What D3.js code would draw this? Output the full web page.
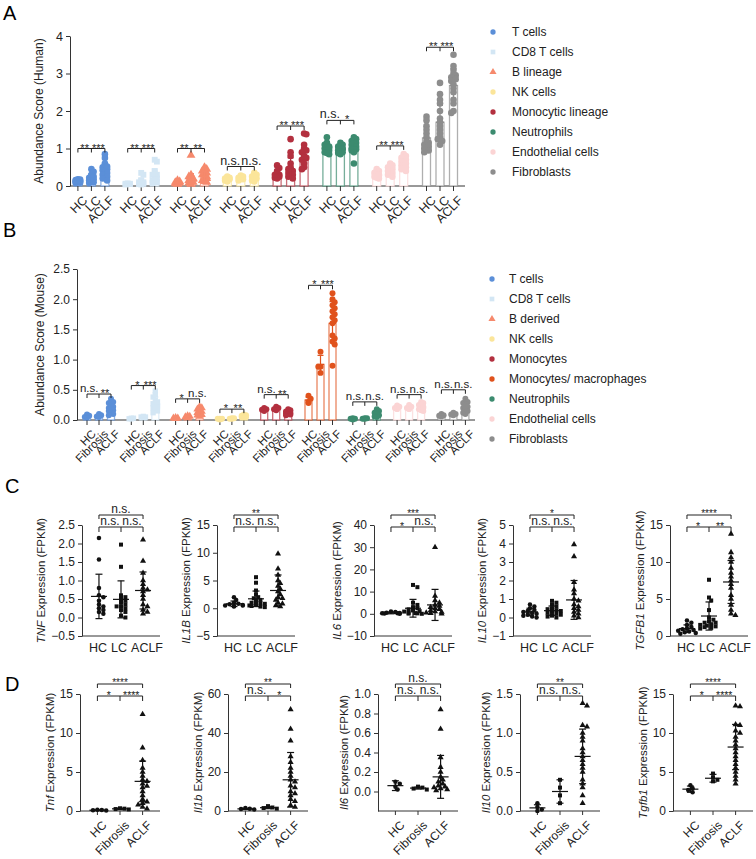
<!DOCTYPE html>
<html>
<head>
<meta charset="utf-8">
<script src="https://cdn.jsdelivr.net/npm/d3@7"></script>
<style>
  body { margin: 0; background: #fff; }
  svg { font-family: Arial, "Liberation Sans", sans-serif; }
</style>
</head>
<body>
<svg id="fig" width="756" height="859"></svg>
<script>
// ---------- data: panel A (human abundance) ----------
const humanCells = ['T cells', 'CD8 T cells', 'B lineage', 'NK cells', 'Monocytic lineage', 'Neutrophils', 'Endothelial cells', 'Fibroblasts'];
const humanGroups = ['HC', 'LC', 'ACLF'];
const humanMean = [
    [0.13, 0.21, 0.45], [0.06, 0.12, 0.26], [0.10, 0.18, 0.26], [0.19, 0.21, 0.22],
    [0.32, 0.45, 0.70], [1.00, 0.97, 1.03], [0.30, 0.42, 0.58], [1.28, 1.70, 2.68]
];
const humanSD = [
    [0.04, 0.11, 0.17], [0.01, 0.09, 0.19], [0.04, 0.15, 0.13], [0.04, 0.04, 0.07],
    [0.10, 0.30, 0.28], [0.12, 0.09, 0.16], [0.08, 0.11, 0.14], [0.30, 0.45, 0.45]
];
const humanPoints = [
    [[0.18, 0.15, 0.12, 0.10, 0.14, 0.08, 0.16, 0.11, 0.13, 0.09, 0.17, 0.12],
     [0.45, 0.38, 0.30, 0.25, 0.22, 0.20, 0.18, 0.15, 0.12, 0.10, 0.08, 0.28],
     [0.85, 0.75, 0.60, 0.55, 0.50, 0.48, 0.45, 0.42, 0.40, 0.35, 0.30, 0.25, 0.20, 0.15, 0.52]],
    [[0.05, 0.06, 0.07, 0.04, 0.06, 0.05],
     [0.35, 0.30, 0.15, 0.12, 0.10, 0.08, 0.06, 0.05, 0.04, 0.10],
     [0.70, 0.65, 0.40, 0.35, 0.30, 0.25, 0.20, 0.15, 0.12, 0.10, 0.08, 0.30]],
    [[0.15, 0.12, 0.10, 0.08, 0.06, 0.05, 0.10],
     [0.82, 0.30, 0.25, 0.20, 0.18, 0.15, 0.12, 0.10, 0.08, 0.05],
     [0.50, 0.45, 0.40, 0.35, 0.30, 0.25, 0.22, 0.20, 0.15, 0.12, 0.10]],
    [[0.25, 0.22, 0.20, 0.18, 0.15, 0.12, 0.20],
     [0.28, 0.25, 0.22, 0.20, 0.18, 0.15],
     [0.35, 0.30, 0.25, 0.22, 0.20, 0.15, 0.12]],
    [[0.55, 0.48, 0.40, 0.35, 0.30, 0.28, 0.25, 0.22, 0.20, 0.30],
     [1.25, 0.90, 0.80, 0.60, 0.50, 0.45, 0.40, 0.35, 0.30, 0.25, 0.20],
     [1.40, 1.38, 1.10, 1.00, 0.95, 0.90, 0.80, 0.75, 0.70, 0.60, 0.50, 0.45]],
    [[1.30, 1.15, 1.10, 1.05, 1.00, 0.98, 0.95, 0.90, 0.88, 0.85, 1.02],
     [1.15, 1.10, 1.05, 1.00, 0.98, 0.95, 0.92, 0.90, 0.88, 0.85],
     [1.30, 1.25, 1.20, 1.15, 1.10, 1.05, 1.00, 0.98, 0.95, 0.90, 0.60]],
    [[0.45, 0.40, 0.35, 0.30, 0.28, 0.25, 0.20, 0.22],
     [0.60, 0.55, 0.50, 0.45, 0.40, 0.35, 0.30, 0.25],
     [0.85, 0.80, 0.75, 0.70, 0.65, 0.60, 0.55, 0.50, 0.45, 0.40]],
    [[1.85, 1.75, 1.60, 1.50, 1.40, 1.30, 1.20, 1.15, 1.10, 1.05, 1.00, 0.95, 0.90],
     [2.75, 2.45, 2.30, 2.20, 2.00, 1.80, 1.70, 1.60, 1.50, 1.40, 1.30, 1.25, 1.20, 1.10],
     [3.50, 3.20, 3.10, 3.00, 2.95, 2.90, 2.85, 2.80, 2.70, 2.60, 2.50, 2.30, 2.20, 2.00, 1.95]]
];
const humanSig = [['**', '***'], ['**', '***'], ['**', '**'], ['n.s.', 'n.s.'], ['**', '***'], ['n.s.', '*'], ['**', '***'], ['**', '***']];
const humanSigLevel = [1.0, 1.0, 1.0, 0.52, 1.6, 1.75, 1.07, 3.7];

// ---------- data: panel B (mouse abundance) ----------
const mouseCells = ['T cells', 'CD8 T cells', 'B derived', 'NK cells', 'Monocytes', 'Monocytes/ macrophages', 'Neutrophils', 'Endothelial cells', 'Fibroblasts'];
const mouseGroups = ['HC', 'Fibrosis', 'ACLF'];
const mouseMean = [
    [0.06, 0.07, 0.20], [0.025, 0.05, 0.27], [0.03, 0.055, 0.13], [0.018, 0.025, 0.06],
    [0.17, 0.19, 0.12], [0.33, 0.92, 1.60], [0.02, 0.025, 0.10], [0.21, 0.21, 0.21], [0.08, 0.10, 0.22]
];
const mouseSD = [
    [0.02, 0.02, 0.08], [0.005, 0.01, 0.11], [0.01, 0.01, 0.05], [0.005, 0.005, 0.02],
    [0.02, 0.02, 0.03], [0.05, 0.15, 0.36], [0.01, 0.005, 0.05], [0.03, 0.03, 0.05], [0.015, 0.02, 0.1]
];
const mousePoints = [
    [[0.09, 0.07, 0.05, 0.04], [0.10, 0.08, 0.06, 0.05],
     [0.35, 0.30, 0.28, 0.25, 0.22, 0.20, 0.18, 0.16, 0.15, 0.12, 0.10, 0.08]],
    [[0.03, 0.02, 0.03, 0.02], [0.06, 0.05, 0.04, 0.05],
     [0.48, 0.42, 0.38, 0.33, 0.30, 0.27, 0.24, 0.22, 0.20, 0.18, 0.15, 0.12]],
    [[0.04, 0.03, 0.03, 0.02], [0.07, 0.05, 0.06, 0.04],
     [0.22, 0.20, 0.18, 0.15, 0.14, 0.12, 0.10, 0.09, 0.08, 0.06]],
    [[0.02, 0.02, 0.01, 0.02], [0.03, 0.02, 0.02, 0.03],
     [0.09, 0.08, 0.07, 0.06, 0.05, 0.05, 0.04]],
    [[0.20, 0.18, 0.17, 0.15], [0.22, 0.20, 0.18, 0.16],
     [0.18, 0.16, 0.14, 0.13, 0.12, 0.11, 0.10, 0.09, 0.08]],
    [[0.40, 0.35, 0.30, 0.28], [1.13, 0.88, 0.88, 0.78],
     [2.10, 2.00, 1.95, 1.90, 1.85, 1.80, 1.75, 1.70, 1.65, 1.60, 1.40, 1.35, 1.30, 1.25, 0.90]],
    [[0.03, 0.02, 0.02, 0.01], [0.03, 0.03, 0.02, 0.02],
     [0.18, 0.15, 0.12, 0.10, 0.08, 0.06, 0.05]],
    [[0.24, 0.22, 0.20, 0.18], [0.25, 0.22, 0.20, 0.18],
     [0.30, 0.28, 0.25, 0.22, 0.20, 0.18, 0.16, 0.15]],
    [[0.10, 0.08, 0.07, 0.06], [0.12, 0.10, 0.09, 0.08],
     [0.35, 0.30, 0.28, 0.25, 0.22, 0.20, 0.18, 0.15, 0.12, 0.10]]
];
const mouseSig = [['n.s.', '**'], ['*', '***'], ['*', 'n.s.'], ['*', '**'], ['n.s.', '**'], ['*', '***'], ['n.s.', 'n.s.'], ['n.s.', 'n.s.'], ['n.s.', 'n.s.']];
const mouseSigLevel = [0.43, 0.57, 0.35, 0.18, 0.42, 2.23, 0.30, 0.42, 0.50];

const cellColors = {
    'T cells': '#5b8fd8', 'CD8 T cells': '#d3e6f4', 'B lineage': '#f6896c', 'B derived': '#f6896c',
    'NK cells': '#fbe59a', 'Monocytic lineage': '#b3303f', 'Monocytes': '#b3303f',
    'Monocytes/ macrophages': '#e0521c', 'Neutrophils': '#3c8b6f', 'Endothelial cells': '#fbd4d4',
    'Fibroblasts': '#8d8d8d'
};
const cellShapes = {'CD8 T cells': 'square', 'B lineage': 'triangle', 'B derived': 'triangle'};

// ---------- data: panel C (human expression) ----------
const humanGenes = ['TNF', 'IL1B', 'IL6', 'IL10', 'TGFB1'];
const humanDomains = [[-0.5, 2.5], [-5, 15], [-10, 40], [-1, 5], [0, 15]];
const humanTicks = [[-0.5, 0, 0.5, 1, 1.5, 2, 2.5], [-5, 0, 5, 10, 15], [-10, 0, 10, 20, 30, 40], [-1, 0, 1, 2, 3, 4, 5], [0, 5, 10, 15]];
const humanTickFormat = ['.1f', 'd', 'd', 'd', 'd'];
const humanExprMean = [[0.57, 0.49, 0.73], [0.8, 1.7, 3.2], [0.4, 2.5, 4.0], [0.30, 0.37, 0.95], [1.0, 2.7, 7.3]];
const humanExprSD = [[0.6, 0.5, 0.5], [0.5, 1.4, 2.8], [0.4, 4.0, 7.0], [0.2, 0.25, 1.05], [0.5, 1.9, 2.9]];
const humanExpr = [
    [[2.15, 1.57, 0.80, 0.55, 0.45, 0.30, 0.25, 0.20, 0.15, 0.10, 0.60, 0.35],
     [1.97, 1.37, 0.60, 0.55, 0.50, 0.45, 0.35, 0.30, 0.25, 0.20, 0.15, 0.05, 0.00, 0.40, 0.30],
     [2.10, 1.53, 1.00, 0.90, 0.80, 0.75, 0.70, 0.60, 0.50, 0.35, 0.30, 0.20, 0.10, 0.15, 1.20]],
    [[2.0, 1.5, 1.0, 0.8, 0.7, 0.6, 0.5, 0.5, 0.4, 0.3],
     [5.6, 4.6, 3.2, 2.5, 2.0, 1.8, 1.5, 1.3, 1.0, 0.9, 0.8, 0.7, 0.5, 0.4, 0.3, 0.2],
     [9.8, 7.1, 6.0, 5.0, 4.5, 4.0, 3.5, 3.0, 2.5, 2.0, 1.8, 1.5, 1.0, 0.8, 0.5, 0.3]],
    [[0.5, 0.3, 0.2, 0.1, 0.0, 0.8, 1.0, 0.4],
     [13, 12, 5, 4, 3, 2.5, 2, 1.5, 1, 0.5, 0.3, 0.1, 0, 0.2, 1.2],
     [30, 8, 6, 5, 4, 3, 2.5, 2, 1.5, 1, 0.5, 0.3, 0, 3.5, 0.8]],
    [[0.70, 0.60, 0.50, 0.40, 0.35, 0.30, 0.25, 0.20, 0.15, 0.10, 0.05, 0.00],
     [0.90, 0.80, 0.70, 0.60, 0.50, 0.45, 0.40, 0.35, 0.30, 0.25, 0.20, 0.15, 0.10, 0.05, 0.00],
     [3.95, 3.30, 1.90, 1.50, 1.30, 1.00, 0.90, 0.70, 0.50, 0.40, 0.30, 0.20, 0.10, 0.00, 0.60]],
    [[2.1, 1.8, 1.5, 1.2, 1.0, 0.9, 0.8, 0.7, 0.6, 0.5, 0.4, 0.3],
     [7.6, 5.2, 4.8, 3.5, 2.5, 2.0, 1.8, 1.6, 1.5, 1.4, 1.3, 1.2, 1.1, 1.0, 1.8, 2.2],
     [13.8, 11.3, 10.6, 10.0, 9.2, 8.5, 8.0, 7.5, 7.0, 6.5, 5.5, 5.0, 4.2, 3.5, 3.0, 2.8]]
];
const humanExprSig = [['n.s.', 'n.s.', 'n.s.'], ['**', 'n.s.', 'n.s.'], ['***', '*', 'n.s.'], ['*', 'n.s.', 'n.s.'], ['****', '*', '**']];

// ---------- data: panel D (mouse expression) ----------
const mouseGenes = ['Tnf', 'Il1b', 'Il6', 'Il10', 'Tgfb1'];
const mouseDomains = [[0, 15], [0, 60], [-0.2, 1], [0, 1.5], [0, 15]];
const mouseTicks = [[0, 5, 10, 15], [0, 20, 40, 60], [0, 0.2, 0.4, 0.6, 0.8, 1.0], [0, 0.5, 1.0, 1.5], [0, 5, 10, 15]];
const mouseTickFormat = ['d', 'd', '.1f', '.1f', 'd'];
const mouseExprMean = [[0.1, 0.28, 3.8], [1.1, 1.7, 16], [0.06, 0.035, 0.15], [0.04, 0.25, 0.70], [2.8, 4.2, 8.2]];
const mouseExprSD = [[0.04, 0.06, 2.6], [0.3, 0.5, 14], [0.05, 0.01, 0.22], [0.04, 0.15, 0.35], [0.4, 0.5, 2.9]];
const mouseExpr = [
    [[0.15, 0.10, 0.05, 0.12], [0.20, 0.30, 0.25, 0.35],
     [12.4, 8.1, 6.5, 5.5, 5.0, 4.5, 4.0, 3.8, 3.5, 3.2, 3.0, 2.5, 2.0, 1.5, 1.2, 1.0, 0.8, 0.5, 0.3]],
    [[1.5, 1.0, 1.2, 0.8], [2.5, 1.5, 1.8, 1.2],
     [52, 42, 36, 28, 25, 22, 20, 18, 16, 15, 13, 12, 10, 9, 8, 6, 5, 3, 2]],
    [[0.10, 0.05, 0.02, 0.08], [0.05, 0.03, 0.04, 0.02],
     [0.84, 0.64, 0.35, 0.25, 0.20, 0.15, 0.12, 0.10, 0.08, 0.06, 0.05, 0.04, 0.03, 0.02, 0.01]],
    [[0.05, 0.02, 0.10, 0.00], [0.40, 0.30, 0.20, 0.10],
     [1.38, 1.35, 1.10, 1.08, 1.00, 0.95, 0.90, 0.80, 0.75, 0.70, 0.65, 0.60, 0.55, 0.50, 0.40, 0.35, 0.30, 0.20, 0.10]],
    [[3.3, 2.9, 2.7, 2.4], [4.8, 4.3, 4.0, 3.8],
     [13.4, 13.5, 11.1, 11.0, 10.3, 10.0, 9.5, 9.0, 8.5, 8.0, 7.5, 7.0, 6.5, 6.0, 5.5, 5.0, 4.5, 4.0, 3.5]]
];
const mouseExprSig = [['****', '*', '****'], ['**', 'n.s.', '*'], ['n.s.', 'n.s.', 'n.s.'], ['**', 'n.s.', 'n.s.'], ['****', '*', '****']];
const exprShapes = ['circle', 'square', 'triangle'];

// ---------- drawing ----------
const svg = d3.select('#fig');
const symbolTypes = {circle: d3.symbolCircle, square: d3.symbolSquare, triangle: d3.symbolTriangle};

function panelLetter(text, x, y) {
    svg.append('text').attr('x', x).attr('y', y).attr('font-size', 20).text(text);
}

// simple deterministic beeswarm: shift overlapping points sideways
function swarm(values, y, r, maxK, gap) {
    const placed = [];
    const out = new Array(values.length);
    const order = values.map((v, i) => i).sort((a, b) => y(values[a]) - y(values[b]));
    order.forEach(i => {
        const py = y(values[i]);
        const cands = [0];
        for (let k = 1; k <= maxK; k++) cands.push(k * r, -k * r);
        let dx = null;
        for (const c of cands) {
            if (placed.every(p => (p.x - c) ** 2 + (p.y - py) ** 2 >= gap * gap)) { dx = c; break; }
        }
        if (dx === null) dx = cands[(placed.length % cands.length)];
        placed.push({x: dx, y: py});
        out[i] = {v: values[i], dx: dx, y: py};
    });
    return out;
}

// two significance labels over a three-tick bracket, pushed apart when they are wide
function bracketLabels(g, xs, baseY, labs, fontNs, fontStar) {
    [0, 1].forEach(k => {
        const lab = labs[k];
        const ns = lab.startsWith('n');
        const t = g.append('text')
            .attr('y', baseY - (ns ? 2 : -3))
            .attr('text-anchor', 'middle').attr('font-size', ns ? fontNs : fontStar).attr('fill', '#222')
            .text(lab);
        const w = t.node().getComputedTextLength();
        let cx = (xs[k] + xs[k + 1]) / 2;
        if (k === 0) cx = Math.min(cx, xs[1] - 0.5 - w / 2);
        else cx = Math.max(cx, xs[1] + 0.5 + w / 2);
        t.attr('x', cx);
    });
}

function abundancePanel(cfg) {
    const g = svg.append('g');
    const y = d3.scaleLinear().domain(cfg.domain).range([cfg.yBot, cfg.yTop]);
    const gx = d3.scaleBand().domain(cfg.cells).range([cfg.band0, cfg.band1]);
    const sub = d3.scalePoint().domain(cfg.groups).range([0, cfg.sub]);
    const cx = (c, grp) => gx(c) + (gx.bandwidth() - cfg.sub) / 2 + sub(grp);

    // y axis
    const ya = g.append('g').attr('transform', `translate(${cfg.x0},0)`)
        .call(d3.axisLeft(y).tickValues(cfg.ticks).tickFormat(d3.format(cfg.tickFormat)).tickSize(4).tickSizeOuter(0));
    ya.selectAll('text').attr('font-size', cfg.tickFont).attr('fill', '#222');
    ya.selectAll('line,path').attr('stroke', '#333');

    g.append('text')
        .attr('transform', `translate(${cfg.labelX},${(cfg.yTop + cfg.yBot) / 2}) rotate(-90)`)
        .attr('text-anchor', 'middle').attr('font-size', 12).attr('fill', '#222')
        .text(cfg.yLabel);

    // x axis line
    g.append('line').attr('x1', cfg.x0).attr('x2', cfg.x1).attr('y1', cfg.yBot).attr('y2', cfg.yBot).attr('stroke', '#333');

    cfg.cells.forEach((c, ci) => {
        const col = cellColors[c];
        const shape = symbolTypes[cellShapes[c] || 'circle'];
        cfg.groups.forEach((grp, gi) => {
            const x = cx(c, grp);
            const m = cfg.mean[ci][gi], s = cfg.sd[ci][gi];
            g.append('rect')
                .attr('x', x - cfg.bw / 2).attr('width', cfg.bw)
                .attr('y', y(m)).attr('height', y(0) - y(m))
                .attr('fill', '#fff').attr('stroke', col).attr('stroke-opacity', 0.7).attr('stroke-width', 1.3);
            // tick + label
            g.append('line').attr('x1', x).attr('x2', x).attr('y1', cfg.yBot).attr('y2', cfg.yBot + 5).attr('stroke', '#333');
            g.append('text')
                .attr('transform', `translate(${x + 4},${cfg.yBot + 9}) rotate(-45)`)
                .attr('text-anchor', 'end').attr('dy', '0.7em').attr('font-size', cfg.xFont).attr('fill', '#222')
                .text(grp);
            // points
            swarm(cfg.points[ci][gi], y, 2.2, 1, 3.5).forEach(p => {
                g.append('path')
                    .attr('d', d3.symbol().type(shape).size(cfg.dotSize)())
                    .attr('transform', `translate(${x + p.dx},${p.y})`)
                    .attr('fill', col);
            });
            // error bar
            const eb = g.append('g').attr('stroke', col).attr('stroke-width', 1.2);
            eb.append('line').attr('x1', x).attr('x2', x).attr('y1', y(m + s)).attr('y2', y(Math.max(0, m - s)));
            eb.append('line').attr('x1', x - 3).attr('x2', x + 3).attr('y1', y(m + s)).attr('y2', y(m + s));
            eb.append('line').attr('x1', x - cfg.bw / 2).attr('x2', x + cfg.bw / 2).attr('y1', y(m)).attr('y2', y(m));
        });
        // significance bracket
        const by = y(cfg.sigLevel[ci]);
        const xs = cfg.groups.map(grp => cx(c, grp));
        const br = g.append('g').attr('stroke', '#222').attr('stroke-width', 1).attr('fill', 'none');
        br.append('line').attr('x1', xs[0]).attr('x2', xs[2]).attr('y1', by).attr('y2', by);
        xs.forEach(xx => br.append('line').attr('x1', xx).attr('x2', xx).attr('y1', by).attr('y2', by + 4));
        bracketLabels(g, xs, by, cfg.sig[ci], cfg.nsFont, 11);
    });

    // legend
    const lg = g.append('g');
    cfg.cells.forEach((c, i) => {
        const ly = cfg.legendY + i * 20;
        lg.append('path')
            .attr('d', d3.symbol().type(symbolTypes[cellShapes[c] || 'circle']).size(22)())
            .attr('transform', `translate(${cfg.legendX},${ly})`)
            .attr('fill', cellColors[c]);
        lg.append('text').attr('x', cfg.legendX + cfg.legendGap).attr('y', ly).attr('dy', '0.35em')
            .attr('font-size', 12).attr('fill', '#222').text(c);
    });
}

abundancePanel({
    cells: humanCells, groups: humanGroups, mean: humanMean, sd: humanSD, points: humanPoints,
    sig: humanSig, sigLevel: humanSigLevel, domain: [0, 4], ticks: [0, 1, 2, 3, 4], tickFormat: 'd',
    x0: 70, x1: 465, yTop: 36, yBot: 186, band0: 66.5, band1: 464.9, sub: 27, bw: 8,
    tickFont: 12.5, xFont: 12.5, dotSize: 34, nsFont: 12.5, labelX: 43, yLabel: 'Abundance Score (Human)',
    legendX: 493, legendGap: 19, legendY: 32
});

abundancePanel({
    cells: mouseCells, groups: mouseGroups, mean: mouseMean, sd: mouseSD, points: mousePoints,
    sig: mouseSig, sigLevel: mouseSigLevel, domain: [0, 2.5], ticks: [0, 0.5, 1, 1.5, 2, 2.5], tickFormat: '.1f',
    x0: 77, x1: 475, yTop: 269, yBot: 420, band0: 76.85, band1: 475.55, sub: 24, bw: 7,
    tickFont: 12, xFont: 11.5, dotSize: 28, nsFont: 11.5, labelX: 44, yLabel: 'Abundance Score (Mouse)',
    legendX: 492, legendGap: 17, legendY: 279
});

function exprPlot(cfg) {
    const g = svg.append('g');
    const y = d3.scaleLinear().domain(cfg.domain).range([cfg.yBot, cfg.yTop]);
    const x = d3.scalePoint().domain(cfg.groups).range([cfg.x0, cfg.x0 + cfg.w]).padding(0.77);

    const ya = g.append('g').attr('transform', `translate(${cfg.x0},0)`)
        .call(d3.axisLeft(y).tickValues(cfg.ticks).tickFormat(d3.format(cfg.tickFormat)).tickSize(4).tickSizeOuter(0));
    ya.selectAll('text').attr('font-size', 12).attr('fill', '#222');
    ya.selectAll('line,path').attr('stroke', '#333');
    const bb = ya.node().getBBox();

    const lab = g.append('text')
        .attr('transform', `translate(${cfg.x0 + bb.x - 6},${(cfg.yTop + cfg.yBot) / 2}) rotate(-90)`)
        .attr('text-anchor', 'middle').attr('font-size', 11.5).attr('fill', '#222');
    lab.append('tspan').attr('font-style', 'italic').text(cfg.gene);
    lab.append('tspan').text(' Expression (FPKM)');

    g.append('line').attr('x1', cfg.x0).attr('x2', cfg.x0 + cfg.w).attr('y1', cfg.yBot).attr('y2', cfg.yBot).attr('stroke', '#333');

    cfg.groups.forEach((grp, gi) => {
        const xx = x(grp);
        if (cfg.rotate) {
            g.append('line').attr('x1', xx).attr('x2', xx).attr('y1', cfg.yBot).attr('y2', cfg.yBot + 4).attr('stroke', '#333');
            g.append('text')
                .attr('transform', `translate(${xx + 4},${cfg.yBot + 9}) rotate(-45)`)
                .attr('text-anchor', 'end').attr('dy', '0.7em').attr('font-size', 12).attr('fill', '#222').text(grp);
        } else {
            g.append('text').attr('x', xx + cfg.labelShift[gi]).attr('y', cfg.yBot + 12).attr('dy', '0.35em')
                .attr('text-anchor', 'middle').attr('font-size', 12.5).attr('fill', '#222').text(grp);
        }
        swarm(cfg.points[gi], y, 2.2, 4, 3.3).forEach(p => {
            g.append('path')
                .attr('d', d3.symbol().type(symbolTypes[exprShapes[gi]]).size(16)())
                .attr('transform', `translate(${xx + p.dx},${p.y})`)
                .attr('fill', '#111');
        });
        const m = cfg.mean[gi], s = cfg.sd[gi];
        const eb = g.append('g').attr('stroke', '#111').attr('stroke-width', 1.2);
        eb.append('line').attr('x1', xx).attr('x2', xx).attr('y1', y(m + s)).attr('y2', y(Math.max(cfg.domain[0], m - s)));
        eb.append('line').attr('x1', xx - 3.5).attr('x2', xx + 3.5).attr('y1', y(m + s)).attr('y2', y(m + s));
        if (m - s > cfg.domain[0]) eb.append('line').attr('x1', xx - 3.5).attr('x2', xx + 3.5).attr('y1', y(m - s)).attr('y2', y(m - s));
        eb.append('line').attr('x1', xx - 8).attr('x2', xx + 8).attr('y1', y(m)).attr('y2', y(m));
    });

    // brackets
    const xs = cfg.groups.map(grp => x(grp));
    const br = g.append('g').attr('stroke', '#222').attr('stroke-width', 1).attr('fill', 'none');
    const topY = cfg.yTop - 10, lowY = cfg.yTop + 2;
    br.append('line').attr('x1', xs[0]).attr('x2', xs[2]).attr('y1', topY).attr('y2', topY);
    [xs[0], xs[2]].forEach(xx => br.append('line').attr('x1', xx).attr('x2', xx).attr('y1', topY).attr('y2', topY + 4));
    br.append('line').attr('x1', xs[0]).attr('x2', xs[2]).attr('y1', lowY).attr('y2', lowY);
    xs.forEach(xx => br.append('line').attr('x1', xx).attr('x2', xx).attr('y1', lowY).attr('y2', lowY + 5));
    const top = cfg.sig[0];
    g.append('text').attr('x', (xs[0] + xs[2]) / 2).attr('y', topY - (top.startsWith('n') ? 2 : -2))
        .attr('text-anchor', 'middle').attr('font-size', top.startsWith('n') ? 12 : 10).attr('fill', '#222').text(top);
    bracketLabels(g, xs, lowY, [cfg.sig[1], cfg.sig[2]], 12, 10.5);
}

const cAxisX = [82, 217, 374, 513, 670];
const dAxisX = [80, 228, 378, 520, 673];

humanGenes.forEach((gene, i) => exprPlot({
    gene: gene, groups: humanGroups, domain: humanDomains[i], ticks: humanTicks[i], tickFormat: humanTickFormat[i],
    mean: humanExprMean[i], sd: humanExprSD[i], points: humanExpr[i], sig: humanExprSig[i],
    x0: cAxisX[i], w: 78, yTop: 525, yBot: 636, rotate: false, labelShift: [-1, -2, 4]
}));

mouseGenes.forEach((gene, i) => exprPlot({
    gene: gene, groups: mouseGroups, domain: mouseDomains[i], ticks: mouseTicks[i], tickFormat: mouseTickFormat[i],
    mean: mouseExprMean[i], sd: mouseExprSD[i], points: mouseExpr[i], sig: mouseExprSig[i],
    x0: dAxisX[i], w: 80, yTop: 694, yBot: 811, rotate: true
}));

panelLetter('A', 3, 20);
panelLetter('B', 3, 237);
panelLetter('C', 5, 493);
panelLetter('D', 5, 691);
</script>
</body>
</html>
